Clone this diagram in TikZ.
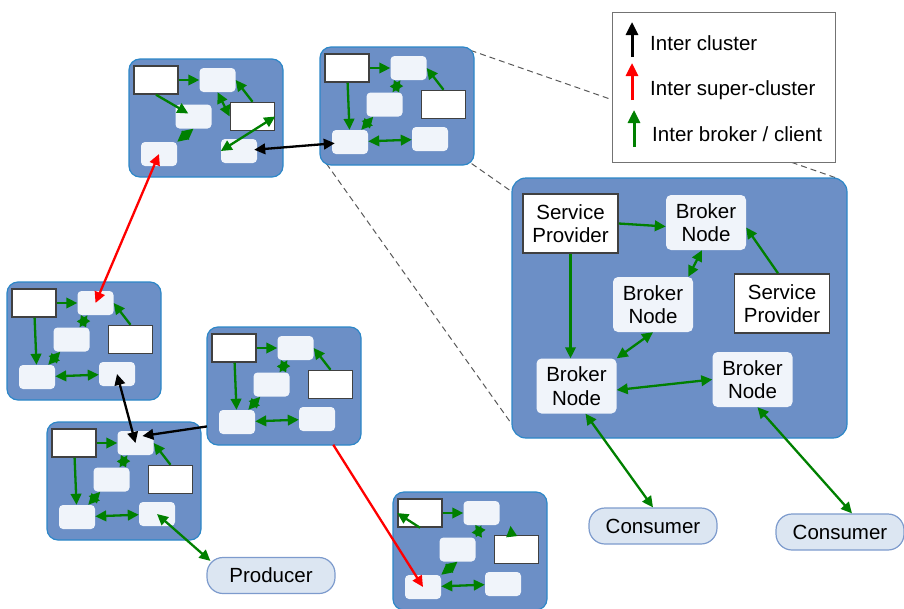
\documentclass[tikz,border=0pt]{standalone}
\usepackage{fontspec}
\setmainfont{Liberation Sans}
\usetikzlibrary{arrows.meta,backgrounds}

\definecolor{clusterblue}{RGB}{108,143,198}
\definecolor{clusteredge}{RGB}{45,135,200}
\definecolor{brokerfill}{RGB}{240,244,250}
\definecolor{clientfill}{RGB}{220,230,242}
\definecolor{clientedge}{RGB}{125,155,205}
\definecolor{flowgreen}{RGB}{0,128,0}

\newcommand\diagfont{\fontsize{20.5}{23.5}\selectfont}

\tikzset{
  cluster/.style={draw=clusteredge, fill=clusterblue, line width=1.2pt,
    rounded corners=11pt, minimum width=154pt, minimum height=118pt, inner sep=0pt},
  bigcluster/.style={cluster, rounded corners=14pt, minimum width=335pt, minimum height=260pt},
  provider/.style={draw=black!75, fill=white, line width=1.5pt,
    minimum width=44pt, minimum height=28pt, inner sep=0pt},
  broker/.style={fill=brokerfill, rounded corners=4pt,
    minimum width=36pt, minimum height=24pt, inner sep=0pt},
  bigprovider/.style={provider, minimum width=95pt, minimum height=59pt, align=center, font=\diagfont},
  bigbroker/.style={broker, rounded corners=5pt, minimum width=80pt, minimum height=55pt, align=center, font=\diagfont},
  client/.style={draw=clientedge, fill=clientfill, line width=1.2pt, rounded corners=16pt,
    minimum width=128pt, minimum height=36pt, font=\diagfont},
  legendbox/.style={draw=black!55, fill=white, line width=0.9pt, minimum width=223pt, minimum height=150pt},
  legendtext/.style={anchor=west, inner sep=0pt, font=\diagfont},
  legendarrow/.style={->, line width=3pt, >={Triangle[length=13pt,width=12pt]}},
  flow/.style={draw=flowgreen, line width=2.3pt},
  interlink/.style={draw=black, line width=2.3pt},
  superlink/.style={draw=red, line width=2.3pt},
  zoomline/.style={draw=black!65, dash pattern=on 6pt off 4pt, line width=1pt}
}

\begin{document}
\begin{tikzpicture}[x=1pt, y=-1pt, >={Triangle[length=11pt,width=10.5pt]}]
  \useasboundingbox (0,0) rectangle (904,608);

  % small clusters
  \foreach \c/\cx/\cy in {a/129/59, b/320/47, c/7/282, d/207/327, e/47/422, f/393/492}{
    \begin{scope}[shift={(\cx,\cy)}]
      \node[cluster] (\c box) at (77,59) {};
      \node[provider] (\c sp1) at (27,21) {};
      \node[broker] (\c bn1) at (88.5,21) {};
      \node[broker] (\c bn2) at (64.5,57.5) {};
      \node[provider] (\c sp2) at (123.5,57.5) {};
      \node[broker] (\c bn3) at (30,95) {};
      \node[broker] (\c bn4) at (110,92) {};
    \end{scope}
  }
  \foreach \c in {b,c,d,e}{
    \draw[flow,->] (\c sp1) -- (\c bn1);
    \draw[flow,->] (\c sp1) -- (\c bn3);
    \draw[flow,->] (\c sp2.north) -- (\c bn1.east);
    \draw[flow,<->] (\c bn1) -- (\c bn2);
    \draw[flow,<->] (\c bn2) -- (\c bn3);
    \draw[flow,<->] (\c bn3) -- (\c bn4);
  }
  % cluster a
  \draw[flow,->] (asp1) -- (abn1);
  \draw[flow,->,shorten >=6pt] (asp1.south) -- (abn2.center);
  \draw[flow,->] (asp2.north) -- (abn1.east);
  \draw[flow,<->] (abn1.south) -- (asp2.west);
  \draw[flow,<->] (abn2.south) -- (abn3.north east);
  \draw[flow,<->] (asp2.east) -- (abn4.west);
  % cluster f
  \draw[flow,->] (fsp1) -- (fbn1);
  \draw[flow,->] (fsp1.south) -- (fsp1.west);
  \draw[flow,->] ([xshift=-5pt]fsp2.north) -- ([xshift=-6pt,yshift=9pt]fsp2.north);
  \draw[flow,<->] (fbn1.south) -- (fbn2.north east);
  \draw[flow,<->] (fbn2.south) -- (fbn3.north east);
  \draw[flow,<->] (fbn3) -- (fbn4);

  % zoomed cluster
  \node[bigcluster] (big) at (679.5,308) {};
  \node[bigprovider] (sp1) at (570.5,223.5) {Service\\Provider};
  \node[bigbroker] (bn1) at (706,222.5) {Broker\\Node};
  \node[bigbroker] (bn2) at (653,304.5) {Broker\\Node};
  \node[bigprovider] (sp2) at (782,303.5) {Service\\Provider};
  \node[bigbroker] (bn3) at (576.5,386) {Broker\\Node};
  \node[bigbroker] (bn4) at (752.5,379.5) {Broker\\Node};
  \draw[flow,->] (sp1.east) -- ([yshift=-4pt]bn1.west);
  \draw[flow,->] (sp1.south) -- (sp1.south |- bn3.north);
  \draw[flow,->] ([xshift=-4pt]sp2.north) -- ([yshift=-5pt]bn1.east);
  \draw[flow,<->] ([xshift=-4pt]bn1.south) -- ([xshift=-5pt]bn2.north east);
  \draw[flow,<->] (bn2.south) -- (bn3.north east);
  \draw[flow,<->] ([yshift=-4pt]bn3.east) -- (bn4.west);

  % clients
  \node[client] (con1) at (653,526) {Consumer};
  \node[client] (con2) at (840,532) {Consumer};
  \node[client] (prod) at (271,575.5) {Producer};
  \draw[flow,<->] ([xshift=9pt]bn3.south) -- (con1.north);
  \draw[flow,<->] ([xshift=5pt]bn4.south) -- ([xshift=12pt]con2.north);
  \draw[flow,<->] (ebn4.center) -- ([xshift=4pt,yshift=-4pt]prod.north west);

  % links between clusters
  \draw[interlink,<->,shorten <=-3pt,shorten >=-3pt] (abn4) -- (bbn3);
  \draw[superlink,<->] (abn3.center) -- (cbn1.center);
  \draw[interlink,<->] (cbn4.center) -- (ebn1.center);
  \draw[interlink,->,shorten <=12pt,shorten >=7pt] (dbn3) -- ([yshift=6pt]ebn1.center);
  \draw[superlink,->,shorten <=16pt] (dbn4) -- (fbn3.center);

  % zoom lines
  \begin{pgfonlayer}{background}
    \draw[zoomline] ([xshift=-4pt,yshift=-4pt]bbox.north east) -- ([xshift=-10pt,yshift=-1pt]big.north east);
    \draw[zoomline] ([xshift=-3pt,yshift=2pt]bbox.south east) -- ([yshift=-14pt]big.north west);
    \draw[zoomline] ([xshift=7pt,yshift=2pt]bbox.south west) -- ([yshift=15pt]big.south west);
  \end{pgfonlayer}

  % legend
  \node[legendbox] (legend) at (723.5,87) {};
  \node[legendtext] (lcluster) at (650,43) {Inter cluster};
  \node[legendtext] (lsuper) at (650,90) {Inter super-cluster};
  \node[legendtext] (lbroker) at (652,134) {Inter broker / client};
  \draw[interlink,legendarrow] ([xshift=-18pt,yshift=-14pt]lcluster.west) -- ([xshift=-18pt,yshift=21pt]lcluster.west);
  \draw[superlink,legendarrow] ([xshift=-18pt,yshift=-10pt]lsuper.west) -- ([xshift=-18pt,yshift=27pt]lsuper.west);
  \draw[flow,legendarrow] ([xshift=-18pt,yshift=-13pt]lbroker.west) -- ([xshift=-18pt,yshift=24pt]lbroker.west);
\end{tikzpicture}
\end{document}
